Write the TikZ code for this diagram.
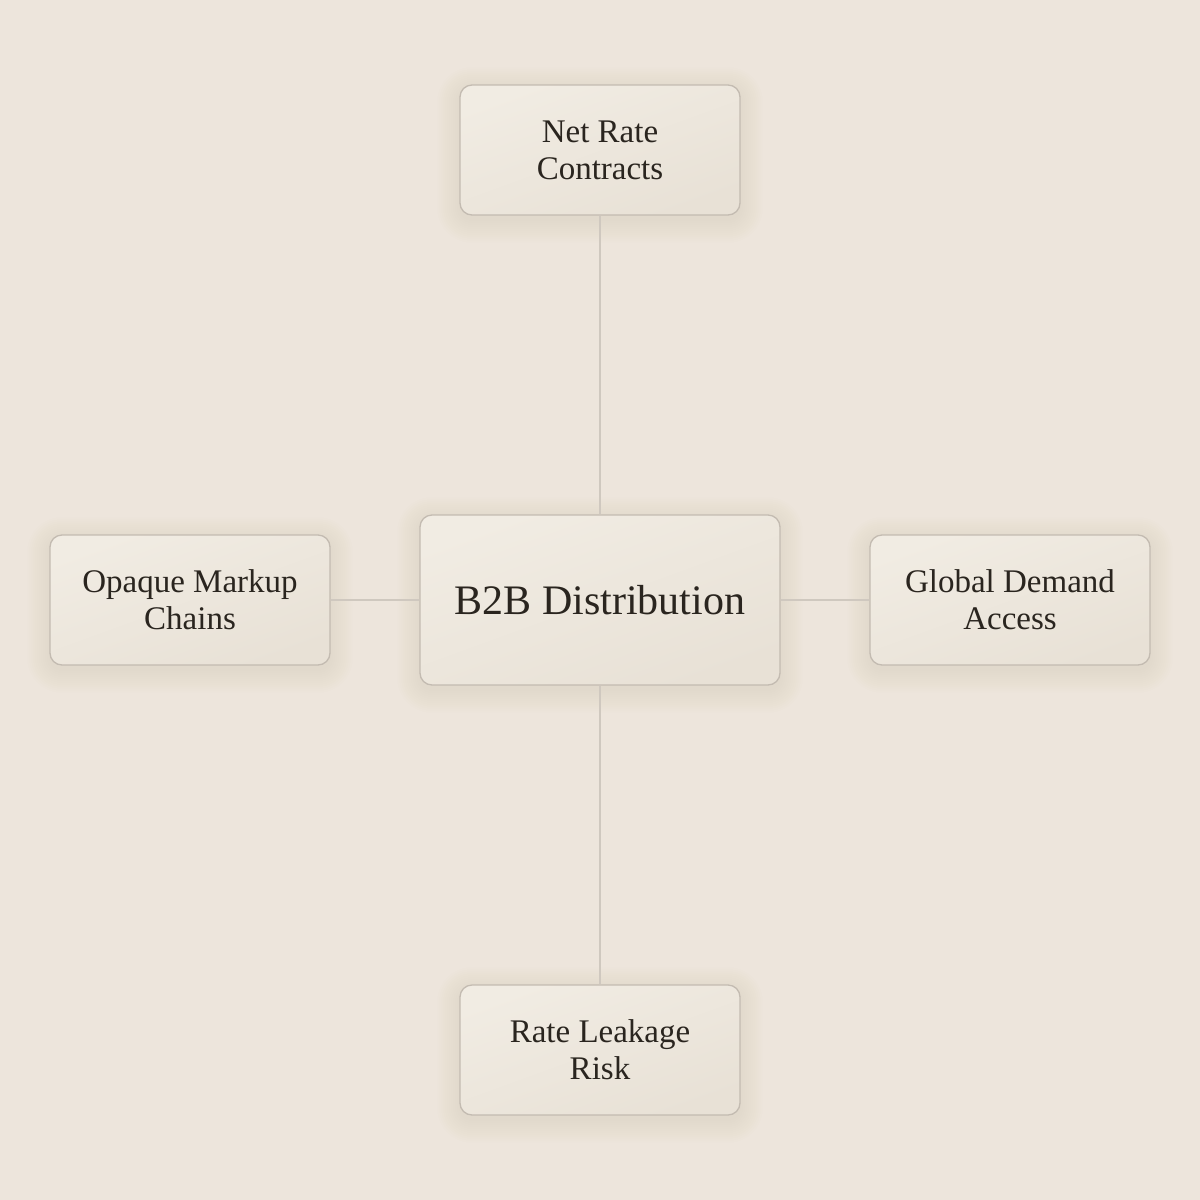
\documentclass[tikz,border=0pt]{standalone}
\usepackage{fontspec}
\setmainfont{Liberation Serif}
\pgfdeclarelayer{canvas}
\pgfdeclarelayer{shade}
\pgfsetlayers{canvas,shade,main}
\definecolor{bgc}{HTML}{EDE5DC}
\definecolor{boxtop}{HTML}{F1ECE3}
\definecolor{boxbot}{HTML}{E8E1D6}
\definecolor{boxline}{HTML}{C3BBB1}
\definecolor{conn}{HTML}{CFC8BF}
\definecolor{txt}{HTML}{2A251F}
\definecolor{shadowc}{HTML}{7A6A55}
\tikzset{
  card/.style={draw=boxline, line width=1.3pt, rounded corners=12pt,
    top color=boxtop, bottom color=boxbot, shading angle=20,
    text=txt, align=center, inner sep=0pt},
  sidecard/.style={card, minimum width=280pt, minimum height=130pt,
    font=\fontsize{33}{37}\selectfont},
  maincard/.style={card, minimum width=360pt, minimum height=170pt,
    font=\fontsize{42}{50}\selectfont},
  link/.style={draw=conn, line width=1.3pt}
}
\newcommand{\cardshadow}[1]{%
  \begin{pgfonlayer}{shade}
  \foreach \k in {1,...,12}{%
    \pgfmathsetmacro{\ex}{2*\k-2}%
    \pgfmathsetmacro{\rr}{12+\ex}%
    \fill[shadowc, opacity=0.008, rounded corners=\rr pt]
      ([xshift=-\ex pt, yshift=\ex pt-5pt]#1.north west) rectangle
      ([xshift=\ex pt, yshift=-\ex pt-5pt]#1.south east);
  }
  \end{pgfonlayer}}
\begin{document}
\begin{tikzpicture}[x=1pt,y=-1pt]
\begin{pgfonlayer}{canvas}
\fill[bgc] (0,0) rectangle (1200,1200);
\end{pgfonlayer}
\useasboundingbox (0,0) rectangle (1200,1200);
\node[sidecard] (top) at (600,150) {Net Rate\\Contracts};
\node[sidecard] (left) at (190,600) {Opaque Markup\\Chains};
\node[sidecard] (right) at (1010,600) {Global Demand\\Access};
\node[sidecard] (bottom) at (600,1050) {Rate Leakage\\Risk};
\node[maincard] (main) at (600,600) {B2B Distribution};
\cardshadow{top}
\cardshadow{left}
\cardshadow{right}
\cardshadow{bottom}
\cardshadow{main}
\begin{pgfonlayer}{shade}
\draw[link] (top) -- (main);
\draw[link] (left) -- (main);
\draw[link] (right) -- (main);
\draw[link] (bottom) -- (main);
\end{pgfonlayer}
\end{tikzpicture}
\end{document}
